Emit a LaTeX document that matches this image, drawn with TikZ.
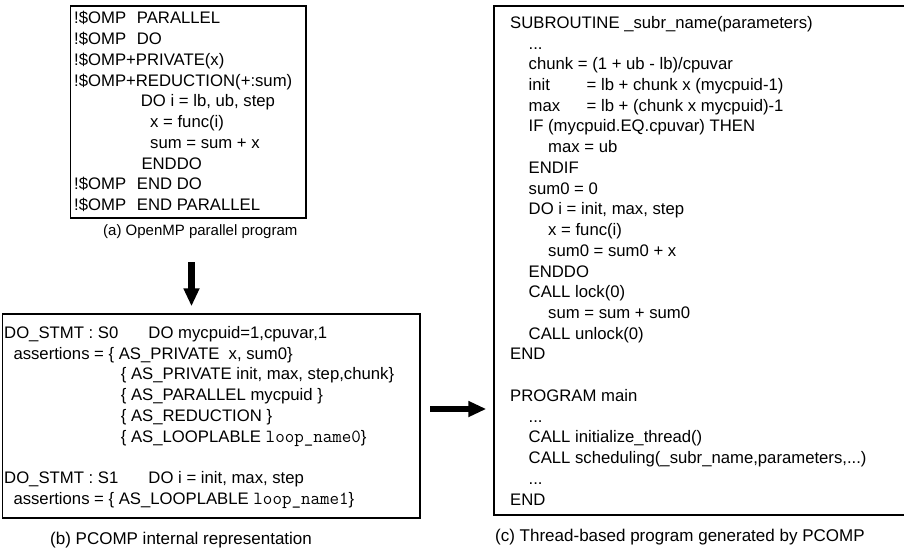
\documentclass[tikz,border=0pt]{standalone}
\usepackage{fontspec}
\setmainfont{Liberation Sans}
\usetikzlibrary{arrows.meta}
\newcommand\loopname[1]{{\fontsize{18.5}{20.7}\ttfamily loop\_name#1}}
\begin{document}
\begin{tikzpicture}[x=1pt,y=-1pt,
  frame/.style={draw=black, line width=1.6pt, fill=none, inner sep=0pt, anchor=north west},
  codeline/.style={anchor=base west, inner sep=0pt, font=\fontsize{16.7}{20.7}\selectfont},
  caption/.style={anchor=base west, inner sep=0pt, font=\fontsize{15}{18}\selectfont},
  bigcaption/.style={caption, font=\fontsize{17}{20}\selectfont},
  bigarrow/.style={line width=6.5pt, -{Triangle[length=18pt,width=15pt]}}]
\useasboundingbox (0,0) rectangle (904,548);

% frames
\node[frame, minimum width=235.8pt, minimum height=212pt] (boxa) at (69.5,5) {};
\node[frame, minimum width=417.5pt, minimum height=204pt] (boxb) at (1.5,313.3) {};
\node[frame, minimum width=420pt, minimum height=509pt] (boxc) at (493.3,5) {};

% (a) OpenMP source
\foreach \k/\x/\t [count=\n] in {
  0/74/{\makebox[62.7pt][l]{!\$OMP}PARALLEL},
  1/74/{\makebox[62.7pt][l]{!\$OMP}DO},
  2/74/{!\$OMP+PRIVATE(x)},
  3/74/{!\$OMP+REDUCTION(+:sum)},
  4/140.7/{DO i = lb, ub, step},
  5/150/{x = func(i)},
  6/150/{sum = sum + x},
  7/141.3/{ENDDO},
  8/74/{\makebox[62.7pt][l]{!\$OMP}END DO},
  9/74/{\makebox[62.7pt][l]{!\$OMP}END PARALLEL}}
  \node[codeline] (a\n) at (\x,{24+\k*20.73}) {\t};

% (b) internal representation
\foreach \k/\x/\t [count=\n] in {
  0/4/{\makebox[144.3pt][l]{DO\_STMT : S0}DO mycpuid=1,cpuvar,1},
  1/13.3/{assertions = \{ AS\_PRIVATE\ \ x, sum0\}},
  2/120.7/{\{ AS\_PRIVATE init, max, step,chunk\}},
  3/120.7/{\{ AS\_PARALLEL mycpuid \}},
  4/120.7/{\{ AS\_REDUCTION \}},
  5/120.7/{\{ AS\_LOOPLABLE \loopname{0}\}},
  7/4/{\makebox[144.3pt][l]{DO\_STMT : S1}DO i = init, max, step},
  8/13.3/{assertions = \{ AS\_LOOPLABLE \loopname{1}\}}}
  \node[codeline] (b\n) at (\x,{338.5+\k*20.73}) {\t};

% (c) generated thread program
\foreach \k/\x/\t [count=\n] in {
  0/510/{SUBROUTINE \_subr\_name(parameters)},
  1/528.5/{...},
  2/528.5/{chunk = (1 + ub - lb)/cpuvar},
  3/528.5/{\makebox[58pt][l]{init}= lb + chunk x (mycpuid-1)},
  4/528.5/{\makebox[58pt][l]{max}= lb + (chunk x mycpuid)-1},
  5/528.5/{IF (mycpuid.EQ.cpuvar) THEN},
  6/548/{max = ub},
  7/528.5/{ENDIF},
  8/528.5/{sum0 = 0},
  9/528.5/{DO i = init, max, step},
  10/548/{x = func(i)},
  11/548/{sum0 = sum0 + x},
  12/528.5/{ENDDO},
  13/528.5/{CALL lock(0)},
  14/548/{sum = sum + sum0},
  15/528.5/{CALL unlock(0)},
  16/510/{END},
  18/510/{PROGRAM main},
  19/528.5/{...},
  20/528.5/{CALL initialize\_thread()},
  21/528.5/{CALL scheduling(\_subr\_name,parameters,...)},
  22/528.5/{...},
  23/510/{END}}
  \node[codeline] (c\n) at (\x,{28.3+\k*20.73}) {\t};

% captions
\node[caption] (capa) at (103,235) {(a) OpenMP parallel program};
\node[bigcaption] (capb) at (50,544) {(b) PCOMP internal representation};
\node[bigcaption] (capc) at (495,541) {(c) Thread-based program generated by PCOMP};

% transformation arrows
\coordinate (dstart) at (191.5,262);
\coordinate (rstart) at (430,409);
\draw[bigarrow, shorten >=7pt] (dstart) -- (dstart |- boxb.north);
\draw[bigarrow, shorten >=7pt] (rstart) -- (rstart -| boxc.west);
\end{tikzpicture}
\end{document}
